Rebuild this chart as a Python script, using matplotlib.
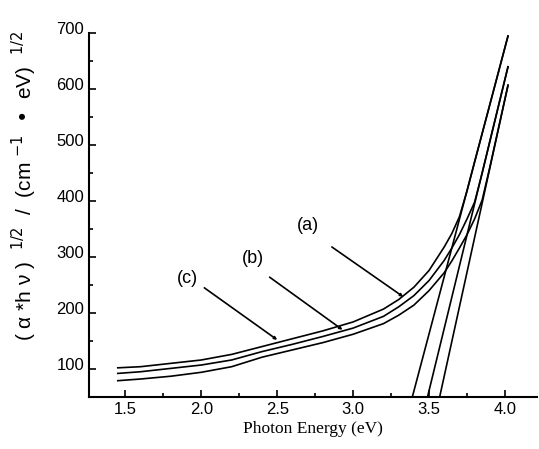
import matplotlib.pyplot as plt
import matplotlib.transforms as mtransforms
from matplotlib.ticker import MultipleLocator

plt.rcParams['font.family'] = ['Liberation Sans', 'DejaVu Sans']

# photon energy (eV)
energy = [1.45, 1.6, 1.8, 2.0, 2.2, 2.4, 2.6, 2.8, 3.0, 3.2, 3.3, 3.4, 3.5, 3.6,
          3.65, 3.7, 3.75, 3.8, 3.85, 3.9, 4.02]
# (alpha*h*v)^1/2 for the three samples
curve_a = [102, 104, 110, 116, 126, 140, 154, 168, 184, 207, 224, 246, 276, 318,
           342, 372, 418, 470, 521, 572, 695]
curve_b = [92, 95, 101, 107, 116, 131, 144, 158, 173, 194, 211, 231, 258, 294,
           316, 340, 368, 398, 450, 506, 640]
curve_c = [79, 82, 87, 94, 104, 121, 134, 147, 162, 181, 196, 214, 240, 272,
           293, 316, 340, 368, 402, 460, 607]

# x-intercepts of the linear extrapolations (at the bottom of the axis)
fit_x0 = [3.39, 3.49, 3.57]
fit_y0 = 50

fig = plt.figure(figsize=(5.39, 4.49), dpi=100)
ax = fig.add_axes([0.165, 0.116, 0.831, 0.810])

for ys in (curve_a, curve_b, curve_c):
    ax.plot(energy, ys, color='black', lw=1.2)

for x0, ys in zip(fit_x0, (curve_a, curve_b, curve_c)):
    ax.plot([x0, energy[-1]], [fit_y0, ys[-1]], color='black', lw=1.2)

arrow = dict(arrowstyle='-|>', color='black', lw=1.2, mutation_scale=4, shrinkA=0, shrinkB=0)
ax.annotate('', xy=(3.33, 229), xytext=(2.86, 318), arrowprops=arrow)
ax.annotate('', xy=(2.93, 170), xytext=(2.45, 264), arrowprops=arrow)
ax.annotate('', xy=(2.50, 152), xytext=(2.02, 245), arrowprops=arrow)
ax.text(2.70, 357, '(a)', fontsize=13, ha='center', va='center')
ax.text(2.34, 298, '(b)', fontsize=13, ha='center', va='center')
ax.text(1.91, 262, '(c)', fontsize=13, ha='center', va='center')

ax.set_xlim(1.26, 4.21)
ax.set_ylim(50, 700)
ax.xaxis.set_major_locator(MultipleLocator(0.5))
ax.xaxis.set_minor_locator(MultipleLocator(0.25))
ax.yaxis.set_major_locator(MultipleLocator(100))
ax.yaxis.set_minor_locator(MultipleLocator(50))
ax.set_yticks([100, 200, 300, 400, 500, 600, 700])
ax.tick_params(which='both', direction='in', width=1.2, labelsize=12)
ax.tick_params(which='major', length=5)
ax.tick_params(which='minor', length=3)
ax.spines['top'].set_visible(False)
ax.spines['right'].set_visible(False)
ax.spines['left'].set_linewidth(1.5)
ax.spines['bottom'].set_linewidth(1.5)

# y tick labels sit slightly above their ticks in the original
offset = mtransforms.ScaledTranslation(0, 5 / 100, fig.dpi_scale_trans)
for lab in ax.get_yticklabels():
    lab.set_transform(lab.get_transform() + offset)

ax.set_xlabel('Photon Energy (eV)', family=['Liberation Serif', 'DejaVu Serif'], fontsize=12.5, labelpad=3)
ax.set_ylabel('( α *h ν )  $^{1/2}$  /  (cm $^{-1}$  •  eV)  $^{1/2}$',
              family=['Liberation Sans', 'DejaVu Sans'], fontsize=15)
ax.yaxis.set_label_coords(-0.112, 0.58)

fig.savefig('out.png', dpi=100)
